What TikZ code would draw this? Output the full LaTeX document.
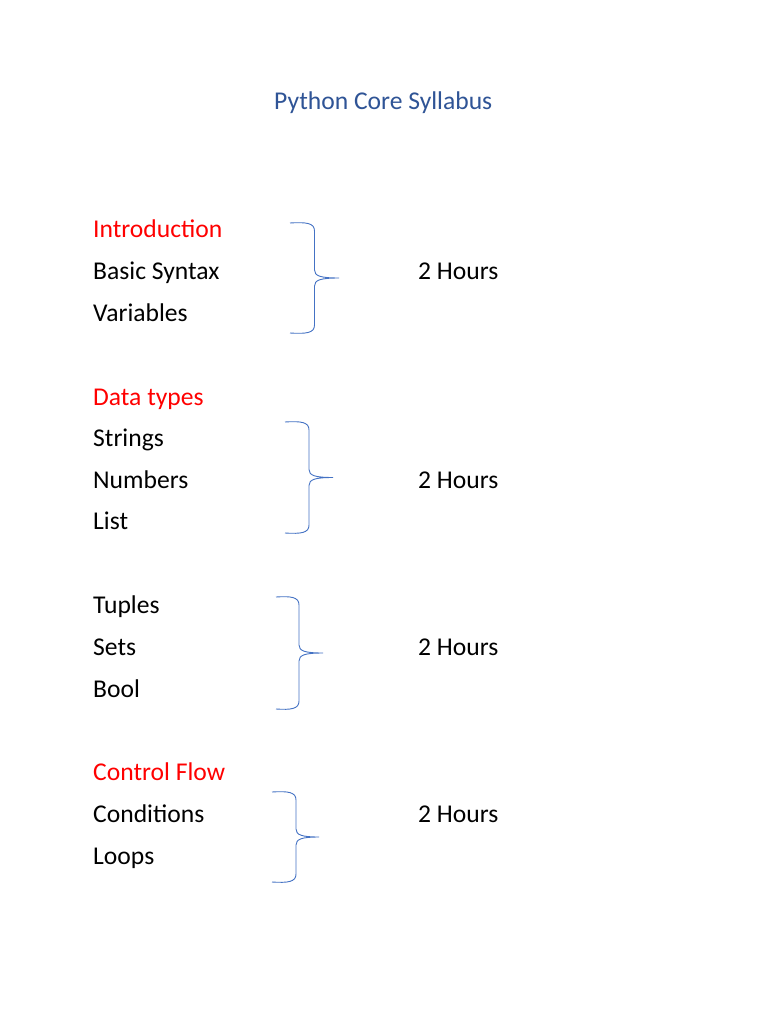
\documentclass[tikz,border=0pt]{standalone}
\usepackage{fontspec}
\setmainfont{Carlito}
\definecolor{titleblue}{HTML}{2F5496}
\definecolor{bracecol}{HTML}{4472C4}
\definecolor{hred}{HTML}{FF0000}
\newcommand{\mybrace}[5]{% xl, xv, xt, yt, yb
  \pgfmathsetmacro{\ym}{(#4+#5)/2}
  \draw[bracestyle] (#1,#4) .. controls ({#2-8},{#4-1}) and (#2,#4) .. (#2,{#4+8})
    -- (#2,{\ym-8}) .. controls (#2,{\ym-2}) and ({#2+6},\ym) .. (#3,\ym)
    .. controls ({#2+6},\ym) and (#2,{\ym+2}) .. (#2,{\ym+8})
    -- (#2,{#5-8}) .. controls (#2,#5) and ({#2-8},{#5+1}) .. (#1,#5);
}
\begin{document}
\begin{tikzpicture}[x=1pt,y=-1pt,
  txt/.style={anchor=base west,inner sep=0pt,font=\fontsize{25.6}{30}\selectfont},
  head/.style={txt,text=hred},
  item/.style={txt,text=black},
  hours/.style={txt,text=black},
  title/.style={txt,text=titleblue},
  bracestyle/.style={draw=bracecol,line width=0.9pt}]
\useasboundingbox[fill=white] (0,0) rectangle (768,1024);
\node[title] (t) at (274,110) {Python Core Syllabus};
% group 1
\node[head] (a1) at (93,237) {Introduction};
\node[item] (a2) at (93,279) {Basic Syntax};
\node[item] (a3) at (93,321) {Variables};
\node[hours] (h1) at (418,279) {2 Hours};
\mybrace{290}{314.5}{339}{223}{333}
% group 2
\node[head] (b1) at (93,405) {Data types};
\node[item] (b2) at (93,446) {Strings};
\node[item] (b3) at (93,488) {Numbers};
\node[item] (b4) at (93,529) {List};
\node[hours] (h2) at (418,488) {2 Hours};
\mybrace{285}{309}{333}{422}{533}
% group 3
\node[item] (c1) at (93,613) {Tuples};
\node[item] (c2) at (93,655) {Sets};
\node[item] (c3) at (93,697) {Bool};
\node[hours] (h3) at (418,655) {2 Hours};
\mybrace{276}{299}{323}{597}{709}
% group 4
\node[head] (d1) at (93,780) {Control Flow};
\node[item] (d2) at (93,822) {Conditions};
\node[item] (d3) at (93,864) {Loops};
\node[hours] (h4) at (418,822) {2 Hours};
\mybrace{272}{296}{319}{792}{882}
\end{tikzpicture}
\end{document}
